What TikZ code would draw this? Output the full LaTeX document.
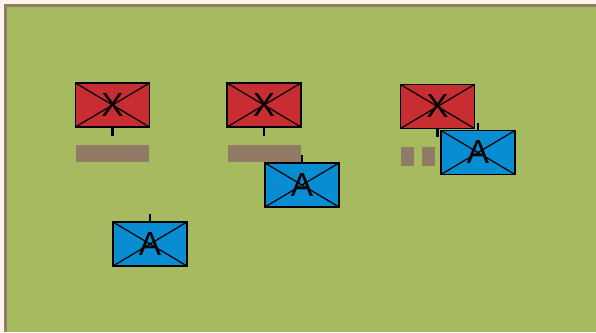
\documentclass[tikz,border=0pt]{standalone}
\usepackage{fontspec}
\setmainfont{Liberation Sans}
\definecolor{cream}{RGB}{253,243,234}
\definecolor{field}{RGB}{166,186,96}
\definecolor{frame}{RGB}{145,123,102}
\definecolor{hostile}{RGB}{200,45,50}
\definecolor{friendly}{RGB}{8,140,210}

\begin{document}
\begin{tikzpicture}[x=0.02cm, y=-0.02cm,
  unitbox/.style={draw=black, line width=1pt, minimum width=1.48cm, minimum height=0.88cm,
    inner sep=0pt, font=\fontsize{19}{19}\selectfont,
    path picture={\draw[line width=0.7pt] (path picture bounding box.north west) -- (path picture bounding box.south east)
      (path picture bounding box.south west) -- (path picture bounding box.north east);}},
  redunit/.style={unitbox, fill=hostile},
  blueunit/.style={unitbox, fill=friendly},
  stem/.style={line width=1.2pt},
  bar/.style={fill=frame}]
  \useasboundingbox (0,0) rectangle (596,332);
  %% Map background and frame
  \fill[cream] (0,0) rectangle (596,332);
  \fill[field] (5.5,5.5) rectangle (596,332);
  \draw[frame, line width=1.7pt] (5.5,332) -- (5.5,5.5) -- (596,5.5);
  %% Terrain bars
  \fill[bar] (76,145) rectangle (149,162);
  \fill[bar] (228,145) rectangle (301,162);
  \fill[bar] (401,147) rectangle (414,166);
  \fill[bar] (422,147) rectangle (435,166);
  %% Hostile units
  \node[redunit] (red1) at (112.5,105) {X};
  \node[redunit] (red2) at (264,105) {X};
  \node[redunit] (red3) at (437.5,106.5) {X};
  \draw[stem] (red1.south) -- ++(0,8);
  \draw[stem] (red2.south) -- ++(0,8);
  \draw[stem] (red3.south) -- ++(0,8);
  %% Friendly units
  \node[blueunit] (blue1) at (150,244) {A};
  \node[blueunit] (blue2) at (302,185) {A};
  \node[blueunit] (blue3) at (478,152.5) {A};
  \draw[stem] (blue1.north) -- ++(0,-7);
  \draw[stem] (blue2.north) -- ++(0,-7);
  \draw[stem] (blue3.north) -- ++(0,-7);
\end{tikzpicture}
\end{document}
